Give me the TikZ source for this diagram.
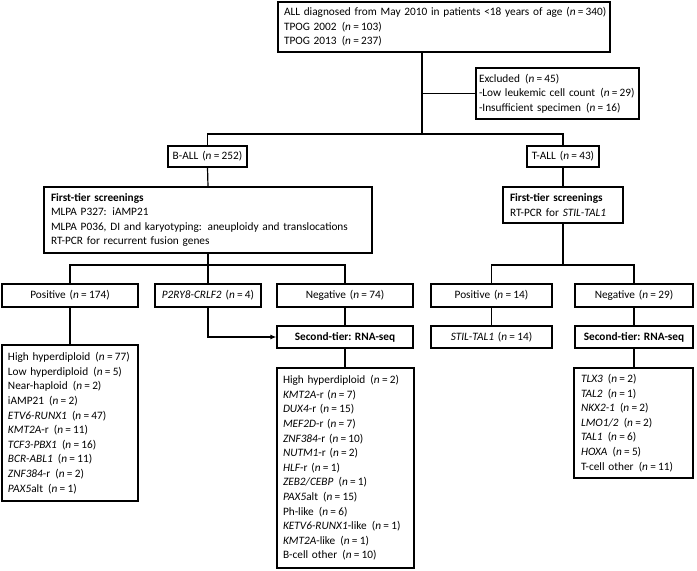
\documentclass[tikz,border=0pt]{standalone}
\usepackage{fontspec}
\setmainfont{Carlito}
\usetikzlibrary{arrows.meta}
\newcommand\nv[1]{\hspace{0.12em}(\textit{n}\hspace{0.2em}=\hspace{0.2em}#1)}
\newcommand\nvs[1]{(\textit{n}\hspace{0.2em}=\hspace{0.2em}#1)}
\newcommand\oneline[1]{\mbox{#1}}
\newcommand\lbx[7]{%
  \pgfmathsetmacro\bw{#4-#2}\pgfmathsetmacro\bh{#5-#3}\pgfmathsetmacro\tw{#4-#2-2*#6}%
  \node[box,align=left,inner xsep=#6pt,minimum width=\bw pt,minimum height=\bh pt,text width=\tw pt] (#1) at ({(#2+#4)/2},{(#3+#5)/2}) {#7};}
\newcommand\cbx[6]{%
  \pgfmathsetmacro\bw{#4-#2}\pgfmathsetmacro\bh{#5-#3}%
  \node[box,align=center,minimum width=\bw pt,minimum height=\bh pt] (#1) at ({(#2+#4)/2},{(#3+#5)/2}) {#6};}
\begin{document}
\begin{tikzpicture}[x=1pt,y=-1pt,
  box/.style={draw,line width=1.2pt,inner xsep=4pt,inner ysep=0pt,font=\fontsize{11.3}{14.6}\selectfont},
  conn/.style={line width=1.2pt},
  arr/.style={line width=1.2pt,-{Latex[length=6pt,width=5pt]}}]
\useasboundingbox (0,0) rectangle (697,571);
% boxes
\lbx{top}{278}{2}{610}{52}{6}{\oneline{ALL diagnosed from May 2010 in patients <18 years of age \nvs{340}}\\\oneline{TPOG 2002 \nv{103}}\\\oneline{TPOG 2013 \nv{237}}}
\lbx{excl}{476}{68}{639}{119}{3}{\oneline{Excluded \nv{45}}\\\oneline{-Low leukemic cell count \nv{29}}\\\oneline{-Insufficient specimen \nv{16}}}
\cbx{ball}{168}{146}{247}{167}{B-ALL \nv{252}}
\cbx{tall}{527}{146}{599}{167}{T-ALL \nv{43}}
\lbx{ftb}{44}{187}{372}{253}{7}{\oneline{\textbf{First-tier screenings}}\\\oneline{MLPA P327: iAMP21}\\\oneline{MLPA P036, DI and karyotyping: aneuploidy and translocations}\\\oneline{RT-PCR for recurrent fusion genes}}
\lbx{ftt}{503}{187}{623}{223}{7}{\oneline{\textbf{First-tier screenings}}\\\oneline{RT-PCR for \textit{STIL-TAL1}}}
\cbx{posb}{2}{284}{138}{307}{Positive \nv{174}}
\cbx{p2ry}{155}{284}{261}{307}{\textit{P2RY8-CRLF2} \nv{4}}
\cbx{negb}{277}{284}{413}{307}{Negative \nv{74}}
\cbx{post}{431}{284}{552}{307}{Positive \nv{14}}
\cbx{negt}{575}{284}{693}{307}{Negative \nv{29}}
\cbx{stb}{277}{326}{413}{348}{\textbf{Second-tier: RNA-seq}}
\cbx{stil}{431}{326}{552}{348}{\textit{STIL-TAL1} \nv{14}}
\cbx{stt}{575}{326}{693}{348}{\textbf{Second-tier: RNA-seq}}
\lbx{lpos}{2}{345}{138}{501}{6}{\oneline{High hyperdiploid \nv{77}}\\\oneline{Low hyperdiploid \nv{5}}\\\oneline{Near-haploid \nv{2}}\\\oneline{iAMP21 \nv{2}}\\\oneline{\textit{ETV6-RUNX1} \nv{47}}\\\oneline{\textit{KMT2A}-r \nv{11}}\\\oneline{\textit{TCF3-PBX1} \nv{16}}\\\oneline{\textit{BCR-ABL1} \nv{11}}\\\oneline{\textit{ZNF384}-r \nv{2}}\\\oneline{\textit{PAX5}alt \nv{1}}}
\lbx{lneg}{277}{368}{414}{568}{6}{\oneline{High hyperdiploid \nv{2}}\\\oneline{\textit{KMT2A}-r \nvs{7}}\\\oneline{\textit{DUX4}-r \nvs{15}}\\\oneline{\textit{MEF2D}-r \nvs{7}}\\\oneline{\textit{ZNF384}-r \nvs{10}}\\\oneline{\textit{NUTM1}-r \nvs{2}}\\\oneline{\textit{HLF}-r \nvs{1}}\\\oneline{\textit{ZEB2/CEBP} \nv{1}}\\\oneline{\textit{PAX5}alt \nv{15}}\\\oneline{Ph-like \nv{6}}\\\oneline{\textit{KETV6-RUNX1}-like \nv{1}}\\\oneline{\textit{KMT2A}-like \nv{1}}\\\oneline{B-cell other \nv{10}}}
\lbx{lt}{574}{368}{693}{478}{7}{\oneline{\textit{TLX3} \nv{2}}\\\oneline{\textit{TAL2} \nv{1}}\\\oneline{\textit{NKX2-1} \nv{2}}\\\oneline{\textit{LMO1/2} \nv{2}}\\\oneline{\textit{TAL1} \nv{6}}\\\oneline{\textit{HOXA} \nv{5}}\\\oneline{T-cell other \nv{11}}}
% connectors
\coordinate (j1) at (422,134);
\coordinate (jb) at (208,265);
\coordinate (jt) at (563,265);
\draw[conn] (top.south -| j1) -- (j1);
\draw[conn] (j1 |- excl.west) -- (excl.west);
\draw[conn] (ball.north) |- (j1) -| (tall.north);
\draw[conn] (ball.south) -- (ftb.north);
\draw[conn] (tall.south) -- (ftt.north);
\draw[conn] (ftb.south -| jb) -- (jb);
\draw[conn] (posb.north) |- (jb) -| (negb.north);
\draw[conn] (p2ry.north) -- (p2ry.north |- jb);
\draw[conn] (ftt.south -| jt) -- (jt);
\draw[conn] (post.north) |- (jt) -| (negt.north);
\draw[conn] (posb.south) -- (lpos.north);
\draw[arr] (p2ry.south) |- (stb.west);
\draw[conn] (negb.south) -- (stb.north);
\draw[conn] (stb.south) -- (lneg.north -| stb.south);
\draw[conn] (post.south) -- (stil.north);
\draw[conn] (negt.south) -- (stt.north);
\draw[conn] (stt.south) -- (lt.north -| stt.south);
\end{tikzpicture}
\end{document}
